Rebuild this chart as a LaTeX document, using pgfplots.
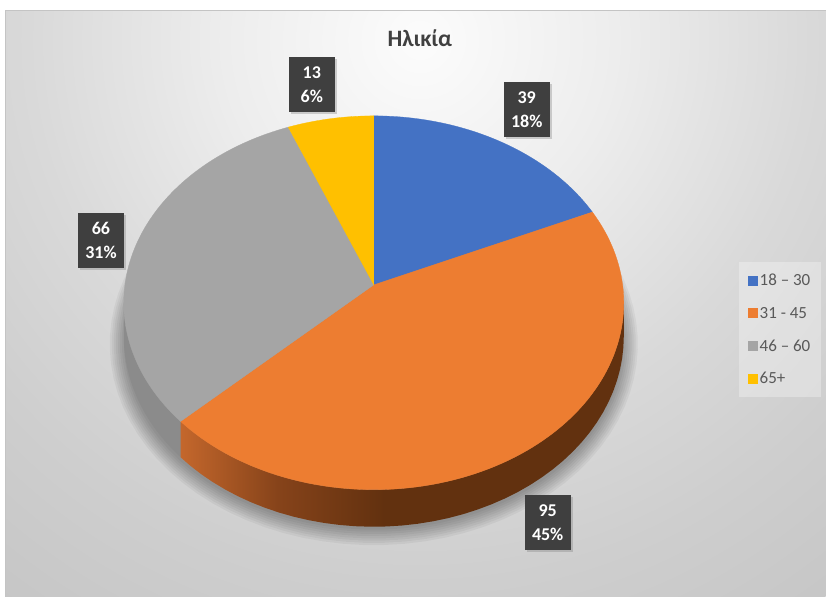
\documentclass[border=0pt]{standalone}
\usepackage{fontspec}
\setmainfont{Carlito}
\usepackage{pgfplots}
\pgfplotsset{compat=1.18}
\usepackage{pgfplotstable}
\usetikzlibrary{shadows}

\definecolor{cBlue}{HTML}{4472C4}
\definecolor{cOrange}{HTML}{ED7D31}
\definecolor{cGray}{HTML}{A5A5A5}
\definecolor{cYellow}{HTML}{FFC000}
\definecolor{gside}{HTML}{8B8B8B}
\definecolor{os1}{HTML}{C4672C}
\definecolor{os2}{HTML}{86431A}
\definecolor{os3}{HTML}{62310F}
\definecolor{bg0}{HTML}{FCFCFC}
\definecolor{bg1}{HTML}{EDEDED}
\definecolor{bg2}{HTML}{D9D9D9}
\definecolor{bg3}{HTML}{CECECE}
\definecolor{bg4}{HTML}{C6C6C6}
\definecolor{frameC}{HTML}{C4C4C4}
\definecolor{titleC}{HTML}{404040}
\definecolor{legC}{HTML}{595959}
\definecolor{boxC}{HTML}{3F3F3F}

\pgfdeclarehorizontalshading{oside}{100bp}{color(0bp)=(os1); color(25bp)=(os1); color(36bp)=(os2); color(48bp)=(os3); color(100bp)=(os3)}
\pgfdeclareradialshading{bgshade}{\pgfpoint{0bp}{0bp}}{color(0bp)=(bg0); color(7bp)=(bg1); color(14bp)=(bg2); color(19.5bp)=(bg3); color(25bp)=(bg4); color(50bp)=(bg4)}

\pgfplotstableread[col sep=comma]{
group,value
18 – 30,39
31 - 45,95
46 – 60,66
65+,13
}\agedata
\pgfplotstablegetelem{0}{value}\of\agedata\edef\vA{\pgfplotsretval}
\pgfplotstablegetelem{1}{value}\of\agedata\edef\vB{\pgfplotsretval}
\pgfplotstablegetelem{2}{value}\of\agedata\edef\vC{\pgfplotsretval}
\pgfplotstablegetelem{3}{value}\of\agedata\edef\vD{\pgfplotsretval}
\pgfmathsetmacro\tot{\vA+\vB+\vC+\vD}
\pgfmathsetmacro\aB{\vA/\tot*360}
\pgfmathsetmacro\aC{\aB+\vB/\tot*360}
\pgfmathsetmacro\aD{\aC+\vC/\tot*360}
\pgfmathtruncatemacro\pA{round(100*\vA/\tot)}
\pgfmathtruncatemacro\pB{round(100*\vB/\tot)}
\pgfmathtruncatemacro\pC{round(100*\vC/\tot)}
\pgfmathtruncatemacro\pD{round(100*\vD/\tot)}

\begin{document}%
\begin{tikzpicture}
\begin{axis}[
  width=826bp, height=597bp, scale only axis,
  xmin=0, xmax=826, ymin=0, ymax=597,
  hide axis, clip=false,
  declare function={
    den(\t)=1+0.0961*cos(\t);
    px(\t)=374+249*sin(\t)/den(\t);
    py(\t)=312+185.3*cos(\t)/den(\t);
    pb(\t)=312+(185.3*cos(\t)-33.5)/den(\t);
    sT(\tS,\tA,\tB)=(\tS<=1) ? (\tA+\tS*(\tB-\tA)) : (\tB-(\tS-1)*(\tB-\tA));
    sY(\tS,\tA,\tB)=(\tS<=1) ? py(sT(\tS,\tA,\tB)) : pb(sT(\tS,\tA,\tB));
  },
  legend style={at={(axis cs:739,335)}, anchor=north west, draw=none,
    fill=white, fill opacity=0.3, text opacity=1, text=legC,
    font=\fontsize{17bp}{20bp}\selectfont, inner xsep=9bp, inner ysep=10bp,
    row sep=16bp},
  legend cell align=left,
  legend image code/.code={\fill[#1, draw=none, fill opacity=1] (0bp,-5bp) rectangle (10bp,5bp);},
]
% background
\fill[white] (axis cs:0,0) rectangle (axis cs:826,597);
\begin{scope}
\clip (axis cs:6,0) rectangle (axis cs:826,586);
\shade[shading=bgshade] (axis cs:420,557) circle[radius=700bp];
\end{scope}
\draw[frameC, line width=1bp] (axis cs:6,0) -- (axis cs:6,586) -- (axis cs:826,586);

% soft shadow
\pgfplotsinvokeforeach{0,2,...,14}{
\addplot[fill=black, fill opacity=0.045, draw=none, domain=0:360, samples=90, forget plot]
  ({374+(249+#1)*sin(x)/den(x)},{272+(185.3+#1)*cos(x)/den(x)}) -- cycle;
}

% side faces
\addplot[shading=oside, draw=none, forget plot,
  samples at={0,0.025,...,1,1,1.0001,1.025,1.05,...,2,2}]
  ({px(sT(x,95.5,\aC))},{sY(x,95.5,\aC)}) -- cycle;
\addplot[fill=gside, draw=none, forget plot,
  samples at={0,0.05,...,1,1,1.0001,1.05,1.1,...,2,2}]
  ({px(sT(x,\aC,264.5))},{sY(x,\aC,264.5)}) -- cycle;

% top faces
\addplot[fill=cBlue, draw=cBlue, line width=0.3bp, domain=0:\aB, samples=60, forget plot]
  ({px(x)},{py(x)}) -- (axis cs:374,312) -- cycle;
\addplot[fill=cOrange, draw=cOrange, line width=0.3bp, domain=\aB:\aC, samples=100, forget plot]
  ({px(x)},{py(x)}) -- (axis cs:374,312) -- cycle;
\addplot[fill=cGray, draw=cGray, line width=0.3bp, domain=\aC:\aD, samples=80, forget plot]
  ({px(x)},{py(x)}) -- (axis cs:374,312) -- cycle;
\addplot[fill=cYellow, draw=cYellow, line width=0.3bp, domain=\aD:360, samples=30, forget plot]
  ({px(x)},{py(x)}) -- (axis cs:374,312) -- cycle;

% legend
\addlegendimage{fill=cBlue}
\addlegendentry{18 – 30}
\addlegendimage{fill=cOrange}
\addlegendentry{31 - 45}
\addlegendimage{fill=cGray}
\addlegendentry{46 – 60}
\addlegendimage{fill=cYellow}
\addlegendentry{65+}

% data labels
\tikzset{dlab/.style={fill=boxC, text=white, align=center, inner sep=0pt,
  minimum width=46bp, minimum height=55bp,
  font=\bfseries\fontsize{18bp}{24bp}\selectfont,
  drop shadow={shadow xshift=2bp, shadow yshift=-2bp, opacity=0.35}}}
\node[dlab] at (axis cs:527,487) {\vA\\\pA\%};
\node[dlab] at (axis cs:548,74) {\vB\\\pB\%};
\node[dlab] at (axis cs:101,356) {\vC\\\pC\%};
\node[dlab] at (axis cs:312,512) {\vD\\\pD\%};

% title
\node[font=\bfseries\fontsize{23.5bp}{28bp}\selectfont, text=titleC] at (axis cs:420,559) {Ηλικία};
\end{axis}
\end{tikzpicture}%
\end{document}
